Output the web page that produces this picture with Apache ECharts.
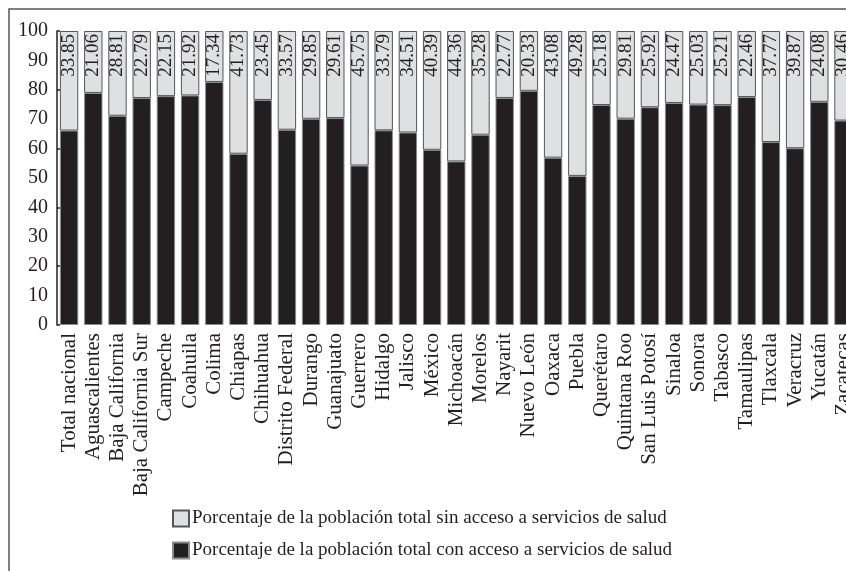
<!DOCTYPE html>
<html>
<head>
<meta charset="utf-8">
<script src="https://cdn.jsdelivr.net/npm/echarts@6/dist/echarts.min.js"></script>
<style>html,body{margin:0;padding:0;background:#fff}#c{width:846px;height:571px}</style>
</head>
<body>
<div id="c"></div>
<script>
const categories = ["Total nacional","Aguascalientes","Baja California","Baja California Sur","Campeche","Coahuila","Colima","Chiapas","Chihuahua","Distrito Federal","Durango","Guanajuato","Guerrero","Hidalgo","Jalisco","México","Michoacán","Morelos","Nayarit","Nuevo León","Oaxaca","Puebla","Querétaro","Quintana Roo","San Luis Potosí","Sinaloa","Sonora","Tabasco","Tamaulipas","Tlaxcala","Veracruz","Yucatán","Zacatecas"];
const sinAcceso = [33.85,21.06,28.81,22.79,22.15,21.92,17.34,41.73,23.45,33.57,29.85,29.61,45.75,33.79,34.51,40.39,44.36,35.28,22.77,20.33,43.08,49.28,25.18,29.81,25.92,24.47,25.03,25.21,22.46,37.77,39.87,24.08,30.46];
const conAcceso = [66.15,78.94,71.19,77.21,77.85,78.08,82.66,58.27,76.55,66.43,70.15,70.39,54.25,66.21,65.49,59.61,55.64,64.72,77.23,79.67,56.92,50.72,74.82,70.19,74.08,75.53,74.97,74.79,77.54,62.23,60.13,75.92,69.54];
const yTicks = [0,10,20,30,40,50,60,70,80,90,100];
const nameSin = "Porcentaje de la población total sin acceso a servicios de salud";
const nameCon = "Porcentaje de la población total con acceso a servicios de salud";

const FONT = "Liberation Serif";
const chart = echarts.init(document.getElementById('c'), null, {renderer:'canvas'});
chart.setOption({
  animation: false,
  textStyle: {fontFamily: FONT, color: '#231f20'},
  graphic: [{
    type: 'rect', silent: true, z: 100,
    shape: {x: 9, y: 9, width: 900, height: 600},
    style: {fill: 'none', stroke: '#555', lineWidth: 1.5}
  }],
  legend: {
    orient: 'vertical', left: 167, top: 504, itemGap: 13,
    itemWidth: 16, itemHeight: 16,
    data: [nameSin, nameCon],
    textStyle: {fontFamily: FONT, fontSize: 19, color: '#231f20', padding: [0,0,0,-2]},
    icon: 'rect'
  },
  grid: {left: 57, width: 798.6, top: 31, height: 294, outerBoundsMode: 'none', containLabel: false},
  xAxis: {
    type: 'category', data: categories,
    axisLine: {show: false}, axisTick: {show: false},
    axisLabel: {rotate: 90, interval: 0, fontSize: 21, color: '#231f20', fontFamily: FONT, margin: 8}
  },
  yAxis: [{
    type: 'value', min: yTicks[0], max: yTicks[yTicks.length-1], interval: 10,
    splitLine: {show: false},
    axisLine: {show: true, lineStyle: {color: '#231f20', width: 1.5}},
    axisTick: {show: false},
    axisLabel: {fontSize: 20, color: '#231f20', fontFamily: FONT, margin: 9}
  }, {
    type: 'value', min: 0, max: 100, interval: 20, position: 'left',
    splitLine: {show: false}, axisLine: {show: false},
    axisLabel: {show: false},
    axisTick: {show: true, inside: true, length: 3, lineStyle: {color: '#231f20', width: 1.5}}
  }],
  series: [
    {
      name: nameCon, type: 'bar', stack: 's', data: conAcceso,
      barCategoryGap: '24%',
      itemStyle: {color: '#231f20', borderColor: '#8a8b8d', borderWidth: 1}
    },
    {
      name: nameSin, type: 'bar', stack: 's', data: sinAcceso,
      barCategoryGap: '24%',
      itemStyle: {color: '#dfe0e2', borderColor: '#555659', borderWidth: 1},
      label: {
        show: true, position: 'insideTop', rotate: 90, distance: 3,
        align: 'right', verticalAlign: 'middle',
        fontSize: 19, fontFamily: FONT, color: '#231f20',
        formatter: p => p.value.toFixed(2)
      }
    }
  ]
});
</script>
</body>
</html>
